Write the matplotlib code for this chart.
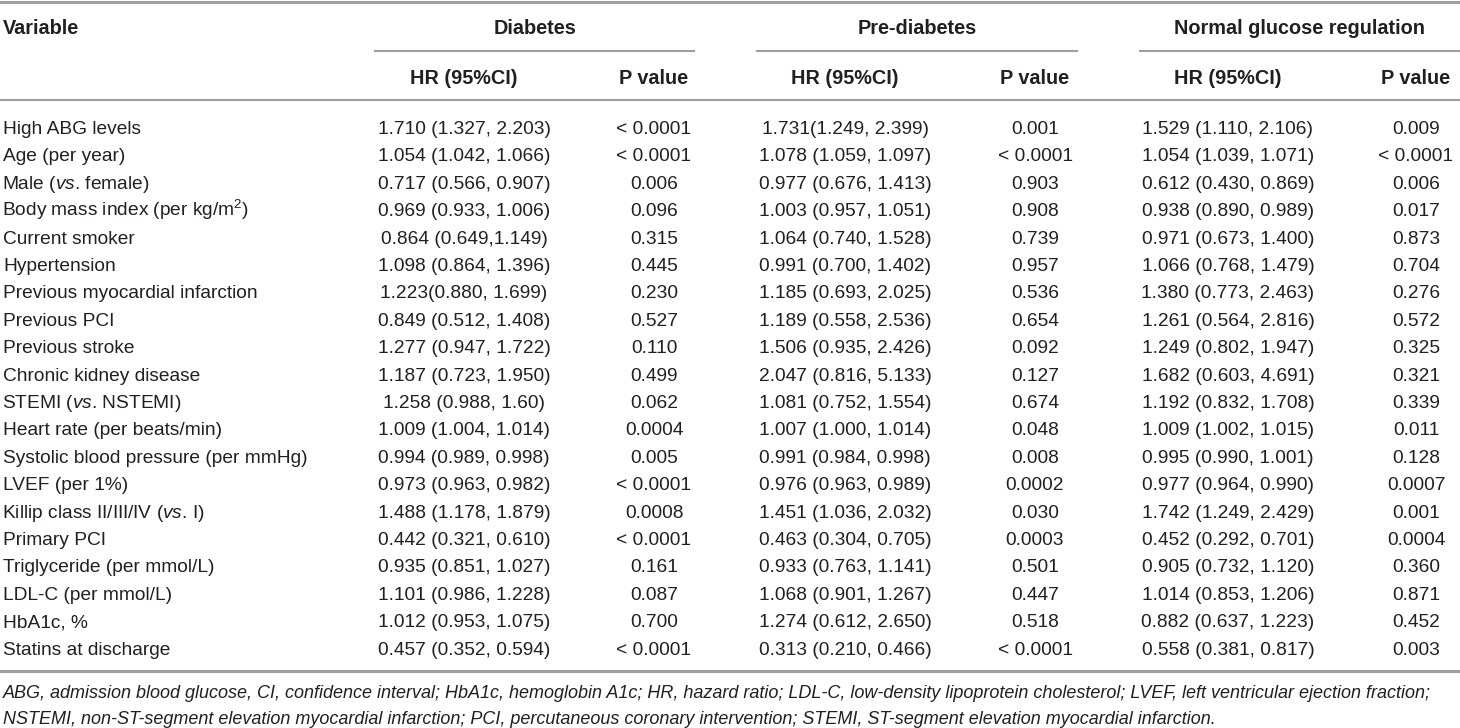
import matplotlib
matplotlib.use("Agg")
import matplotlib.pyplot as plt

plt.rcParams['font.family'] = ['Liberation Sans', 'DejaVu Sans']
plt.rcParams['mathtext.fontset'] = 'custom'
plt.rcParams['mathtext.rm'] = 'Liberation Sans'
plt.rcParams['mathtext.it'] = 'Liberation Sans:italic'

variables = [
    "High ABG levels",
    "Age (per year)",
    r"Male ($\mathit{vs}$. female)",
    r"Body mass index (per kg/m$^{2}$)",
    "Current smoker",
    "Hypertension",
    "Previous myocardial infarction",
    "Previous PCI",
    "Previous stroke",
    "Chronic kidney disease",
    r"STEMI ($\mathit{vs}$. NSTEMI)",
    "Heart rate (per beats/min)",
    "Systolic blood pressure (per mmHg)",
    "LVEF (per 1%)",
    r"Killip class II/III/IV ($\mathit{vs}$. I)",
    "Primary PCI",
    "Triglyceride (per mmol/L)",
    "LDL-C (per mmol/L)",
    "HbA1c, %",
    "Statins at discharge",
]

groups = ["Diabetes", "Pre-diabetes", "Normal glucose regulation"]

hr_diabetes = [
    "1.710 (1.327, 2.203)", "1.054 (1.042, 1.066)", "0.717 (0.566, 0.907)",
    "0.969 (0.933, 1.006)", "0.864 (0.649,1.149)", "1.098 (0.864, 1.396)",
    "1.223(0.880, 1.699)", "0.849 (0.512, 1.408)", "1.277 (0.947, 1.722)",
    "1.187 (0.723, 1.950)", "1.258 (0.988, 1.60)", "1.009 (1.004, 1.014)",
    "0.994 (0.989, 0.998)", "0.973 (0.963, 0.982)", "1.488 (1.178, 1.879)",
    "0.442 (0.321, 0.610)", "0.935 (0.851, 1.027)", "1.101 (0.986, 1.228)",
    "1.012 (0.953, 1.075)", "0.457 (0.352, 0.594)",
]
p_diabetes = [
    "< 0.0001", "< 0.0001", "0.006", "0.096", "0.315", "0.445", "0.230",
    "0.527", "0.110", "0.499", "0.062", "0.0004", "0.005", "< 0.0001",
    "0.0008", "< 0.0001", "0.161", "0.087", "0.700", "< 0.0001",
]

hr_prediabetes = [
    "1.731(1.249, 2.399)", "1.078 (1.059, 1.097)", "0.977 (0.676, 1.413)",
    "1.003 (0.957, 1.051)", "1.064 (0.740, 1.528)", "0.991 (0.700, 1.402)",
    "1.185 (0.693, 2.025)", "1.189 (0.558, 2.536)", "1.506 (0.935, 2.426)",
    "2.047 (0.816, 5.133)", "1.081 (0.752, 1.554)", "1.007 (1.000, 1.014)",
    "0.991 (0.984, 0.998)", "0.976 (0.963, 0.989)", "1.451 (1.036, 2.032)",
    "0.463 (0.304, 0.705)", "0.933 (0.763, 1.141)", "1.068 (0.901, 1.267)",
    "1.274 (0.612, 2.650)", "0.313 (0.210, 0.466)",
]
p_prediabetes = [
    "0.001", "< 0.0001", "0.903", "0.908", "0.739", "0.957", "0.536",
    "0.654", "0.092", "0.127", "0.674", "0.048", "0.008", "0.0002",
    "0.030", "0.0003", "0.501", "0.447", "0.518", "< 0.0001",
]

hr_normal = [
    "1.529 (1.110, 2.106)", "1.054 (1.039, 1.071)", "0.612 (0.430, 0.869)",
    "0.938 (0.890, 0.989)", "0.971 (0.673, 1.400)", "1.066 (0.768, 1.479)",
    "1.380 (0.773, 2.463)", "1.261 (0.564, 2.816)", "1.249 (0.802, 1.947)",
    "1.682 (0.603, 4.691)", "1.192 (0.832, 1.708)", "1.009 (1.002, 1.015)",
    "0.995 (0.990, 1.001)", "0.977 (0.964, 0.990)", "1.742 (1.249, 2.429)",
    "0.452 (0.292, 0.701)", "0.905 (0.732, 1.120)", "1.014 (0.853, 1.206)",
    "0.882 (0.637, 1.223)", "0.558 (0.381, 0.817)",
]
p_normal = [
    "0.009", "< 0.0001", "0.006", "0.017", "0.873", "0.704", "0.276",
    "0.572", "0.325", "0.321", "0.339", "0.011", "0.128", "0.0007",
    "0.001", "0.0004", "0.360", "0.871", "0.452", "0.003",
]

footnote = [
    "ABG, admission blood glucose, CI, confidence interval; HbA1c, hemoglobin A1c; HR, hazard ratio; "
    "LDL-C, low-density lipoprotein cholesterol; LVEF, left ventricular ejection fraction;",
    "NSTEMI, non-ST-segment elevation myocardial infarction; PCI, percutaneous coronary intervention; "
    "STEMI, ST-segment elevation myocardial infarction.",
]

fig = plt.figure(figsize=(14.6, 7.28), dpi=100)
ax = fig.add_axes([0, 0, 1, 1])
ax.set_xlim(0, 1460)
ax.set_ylim(728, 0)
ax.axis('off')

fs = 13.8
fs_head = 14.3
fs_note = 12.95
line_c = '#9e9e9e'
txt_c = '#231f20'
base = 6.5  # centre -> baseline offset in pixels

# (group centre, line start, line end, hr centre, p centre)
cols = [
    (535, 375, 694, 464, 654),
    (917, 757, 1077, 845, 1035),
    (1300, 1140, 1460, 1228, 1416),
]
hr_cols = [hr_diabetes, hr_prediabetes, hr_normal]
p_cols = [p_diabetes, p_prediabetes, p_normal]

ax.plot([0, 1460], [1.5, 1.5], color=line_c, lw=2.2)
ax.text(3, 27 + base, "Variable", fontsize=fs_head, fontweight='bold', va='baseline', color=txt_c)
for g, (gc, x0, x1, hc, pc) in zip(groups, cols):
    ax.text(gc, 27 + base, g, fontsize=fs_head, fontweight='bold', ha='center', va='baseline', color=txt_c)
    ax.plot([x0, x1], [51, 51], color=line_c, lw=1.5)
    ax.text(hc, 77 + base, "HR (95%CI)", fontsize=fs_head, fontweight='bold', ha='center', va='baseline', color=txt_c)
    ax.text(pc, 77 + base, "P value", fontsize=fs_head, fontweight='bold', ha='center', va='baseline', color=txt_c)
ax.plot([0, 1460], [100, 100], color=line_c, lw=1.5)

y0, dy = 127.5, 27.4
for i, v in enumerate(variables):
    y = y0 + i * dy + base
    # mathtext labels carry a small left bearing
    vx = 2 if '$' in v else 3
    ax.text(vx, y, v, fontsize=fs, va='baseline', color=txt_c)
    for (gc, x0, x1, hc, pc), hr, p in zip(cols, hr_cols, p_cols):
        ax.text(hc, y, hr[i], fontsize=fs, ha='center', va='baseline', color=txt_c)
        ax.text(pc, y, p[i], fontsize=fs, ha='center', va='baseline', color=txt_c)

ax.plot([0, 1460], [671, 671], color=line_c, lw=2.2)
ax.text(3, 691 + base, footnote[0], fontsize=fs_note, style='italic', va='baseline', color=txt_c)
ax.text(3, 717 + base, footnote[1], fontsize=fs_note, style='italic', va='baseline', color=txt_c)

fig.savefig("out.png", dpi=100, facecolor='white')
